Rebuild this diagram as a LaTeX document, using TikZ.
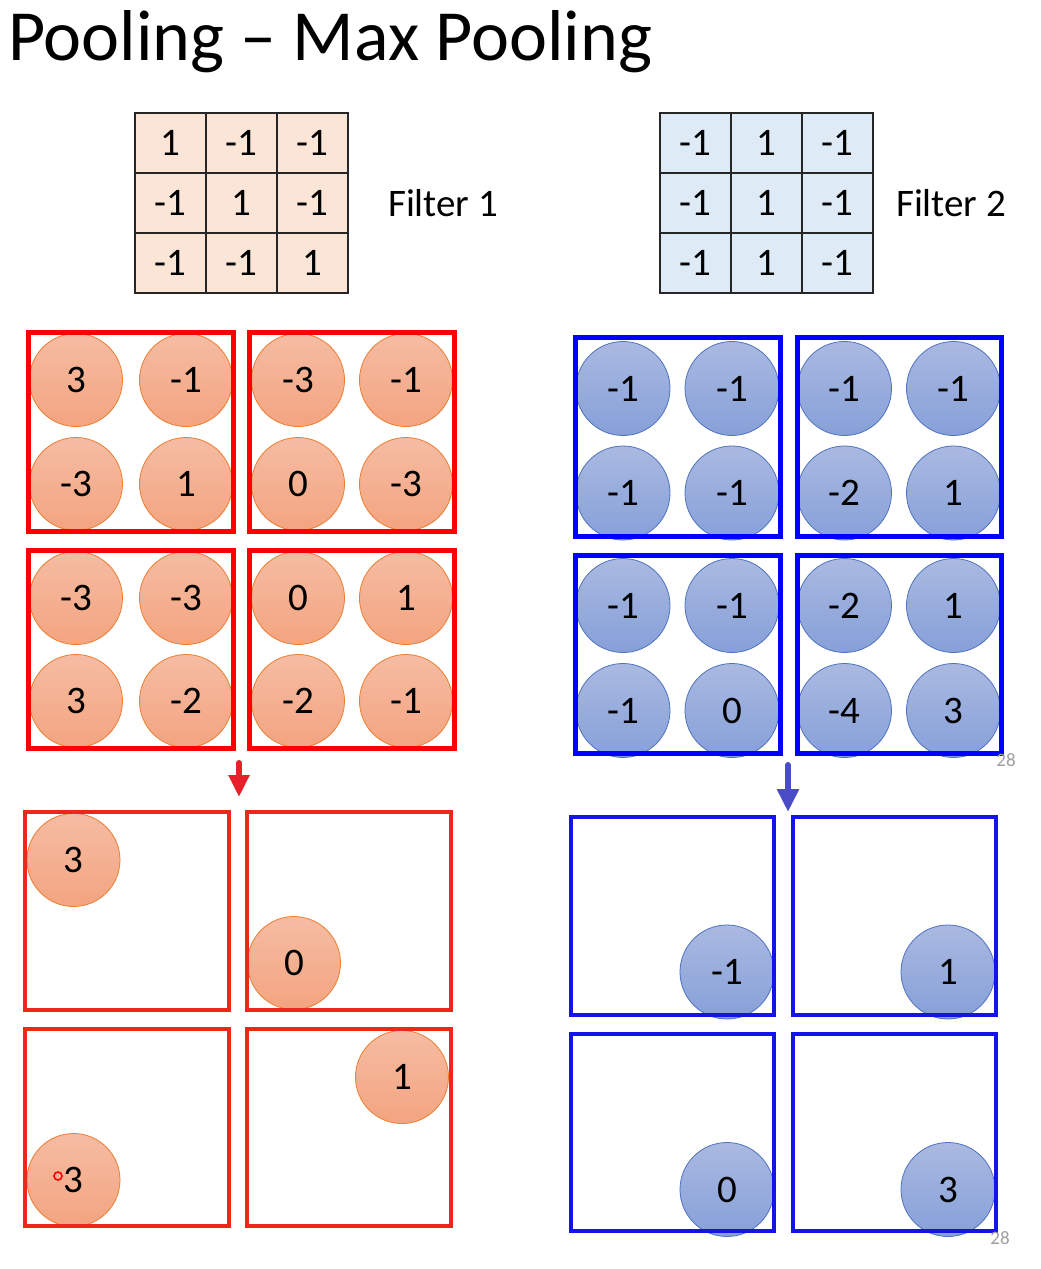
\documentclass[tikz,border=0pt]{standalone}
\usepackage{fontspec}
\setmainfont{Carlito}
\usepackage{tikz}
\usetikzlibrary{arrows.meta,positioning}
\definecolor{peach}{HTML}{FBE5D6}
\definecolor{icyblue}{HTML}{DEEBF7}
\definecolor{winred}{HTML}{FF0000}
\definecolor{winredsoft}{HTML}{F0261B}
\definecolor{winblue}{HTML}{0000FF}
\definecolor{winbluesoft}{HTML}{1414E6}
\definecolor{balloranget}{HTML}{F5BCA3}
\definecolor{ballorangeb}{HTML}{F4A480}
\definecolor{ballorangeline}{HTML}{ED7D31}
\definecolor{ballbluet}{HTML}{AAB9E1}
\definecolor{ballblueb}{HTML}{86A0D8}
\definecolor{ballblueline}{HTML}{4F73C0}
\definecolor{arrowred}{HTML}{E8202A}
\definecolor{arrowblue}{HTML}{4A4CC8}
\definecolor{pagegrey}{HTML}{A0A0A0}
\newcommand{\numsize}{\fontsize{39}{42}\selectfont}
\newcommand{\headsize}{\fontsize{72}{80}\selectfont}
\tikzset{
  cell/.style={draw=black!85,line width=1.8pt,minimum width=71pt,minimum height=60pt,inner sep=0pt,font=\numsize},
  orangeball/.style={circle,draw=ballorangeline,line width=0.8pt,top color=balloranget,bottom color=ballorangeb,minimum size=93pt,inner sep=0pt,font=\numsize},
  blueball/.style={circle,draw=ballblueline,line width=0.8pt,top color=ballbluet,bottom color=ballblueb,minimum size=94pt,inner sep=0pt,font=\numsize},
  redwin/.style={draw=winred,line width=5pt},
  bluewin/.style={draw=winblue,line width=5pt},
  pagenum/.style={font=\fontsize{19}{20}\selectfont,text=pagegrey,inner sep=0pt}
}

\begin{document}
\begin{tikzpicture}[x=1pt,y=-1pt]
  \fill[white] (0,0) rectangle (1041,1269);
  \useasboundingbox (0,0) rectangle (1041,1269);

  \node[anchor=base west,inner sep=0pt,font=\headsize] (title) at (8,60) {Pooling – Max Pooling};

  % filters
  \foreach \va/\vb/\vc [count=\r] in {1/-1/-1,-1/1/-1,-1/-1/1}
    \foreach \xx/\v [count=\c] in {170.5/\va,241.5/\vb,312.5/\vc}
      \node[cell,fill=peach] (fa\r\c) at (\xx,83+60*\r) {\v};
  \foreach \va/\vb/\vc [count=\r] in {-1/1/-1,-1/1/-1,-1/1/-1}
    \foreach \xx/\v [count=\c] in {695.5/\va,766.5/\vb,837.5/\vc}
      \node[cell,fill=icyblue] (fb\r\c) at (\xx,83+60*\r) {\v};
  \node[right=39pt of fa23,inner sep=0pt,font=\numsize] (labA) {Filter 1};
  \node[right=22pt of fb23,inner sep=0pt,font=\numsize] (labB) {Filter 2};

  % feature maps
  \foreach \yy/\va/\vb/\vc/\vd [count=\r] in {380/3/-1/-3/-1,484/-3/1/0/-3,598/-3/-3/0/1,701/3/-2/-2/-1}
    \foreach \xx/\v [count=\c] in {76/\va,186/\vb,298/\vc,406/\vd}
      \node[orangeball] (ra\r\c) at (\xx,\yy) {\v};
  \foreach \yy/\va/\vb/\vc/\vd [count=\r] in {388.5/-1/-1/-1/-1,493/-1/-1/-2/1,605.5/-1/-1/-2/1,710.5/-1/0/-4/3}
    \foreach \xx/\v [count=\c] in {623/\va,732/\vb,844.5/\vc,953.5/\vd}
      \node[blueball] (ba\r\c) at (\xx,\yy) {\v};
  \foreach \xa/\xb in {28.5/233.5,249.5/454.5}
    \foreach \ya/\yb in {332/531.5,550/748.5}
      \draw[redwin] (\xa,\ya) rectangle (\xb,\yb);
  \foreach \xa/\xb in {575.5/780.5,797/1001}
    \foreach \ya/\yb in {337.5/536.5,555/753.5}
      \draw[bluewin] (\xa,\ya) rectangle (\xb,\yb);
  \node[pagenum] (pgA) at (1006,760) {28};

  % arrows
  \coordinate (rtop) at (239,763);
  \coordinate (rtip) at (239,797);
  \coordinate (btop) at (788,765);
  \coordinate (btip) at (788,812);
  \draw[arrowred,line width=6pt,line cap=round,-{Triangle[width=20pt,length=22pt]}] (rtop) -- (rtip);
  \draw[arrowblue,line width=6pt,line cap=round,-{Triangle[width=21pt,length=23pt]}] (btop) -- (btip);

  % pooled
  \foreach \xx/\yy/\v [count=\i] in {73.5/860/3,294/963/0,402/1077/1,73.5/1180/3}
    \node[orangeball] (rp\i) at (\xx,\yy) {\v};
  \foreach \xx/\yy/\v [count=\i] in {727/972/-1,948/972/1,727/1189.5/0,948/1189.5/3}
    \node[blueball] (bp\i) at (\xx,\yy) {\v};
  \draw[red,line width=1.6pt] (58,1176) circle (4);
  \foreach \xa/\xb in {25/229,246.5/451}
    \foreach \ya/\yb in {811.5/1009.5,1028.5/1226}
      \draw[redwin,draw=winredsoft,line width=4pt] (\xa,\ya) rectangle (\xb,\yb);
  \foreach \xa/\xb in {571/774,792.5/995.5}
    \foreach \ya/\yb in {816.5/1014.5,1034/1231}
      \draw[bluewin,draw=winbluesoft,line width=4pt] (\xa,\ya) rectangle (\xb,\yb);
  \node[pagenum] (pgB) at (1000,1238) {28};
\end{tikzpicture}
\end{document}
